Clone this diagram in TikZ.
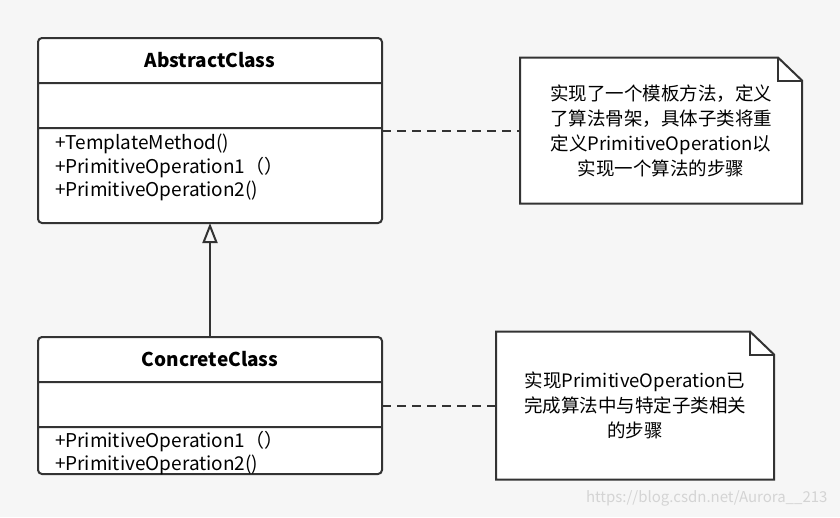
\documentclass[tikz,border=0pt]{standalone}
\usepackage{fontspec}
\setmainfont{Noto Sans CJK SC}
\usetikzlibrary{shapes, positioning, calc, arrows.meta}
\definecolor{linegray}{HTML}{333333}
\definecolor{backgray}{HTML}{F6F6F6}
\definecolor{markgray}{HTML}{D4D4D4}

\newcommand{\classtitle}[1]{\parbox[c][43pt][c]{344pt}{\centering
    \fontsize{19pt}{22pt}\selectfont\bfseries #1}}
\newcommand{\classblank}{\parbox[c][43pt][c]{344pt}{\null}}
\newcommand{\classops}[3]{\parbox[c][#1][t]{344pt}{\vspace*{#2}%
    \leftskip=17pt\fontsize{19pt}{23.5pt}\selectfont #3}}

\begin{document}
\begin{tikzpicture}[x=1pt, y=-1pt,
    umlclass/.style={rectangle split,
      rectangle split parts=#1,
      draw=linegray,
      line width=2pt,
      fill=white,
      rounded corners=4pt,
      inner sep=0pt,
      outer sep=0pt},
    umlnote/.style={fill=white,
      inner sep=0pt,
      outer sep=0pt,
      align=center,
      font=\fontsize{18.5pt}{25pt}\selectfont},
    noteline/.style={draw=linegray, line width=2pt},
    link/.style={draw=linegray, line width=2pt, dash pattern=on 9pt off 6pt}]

  \fill[backgray] (0,0) rectangle (840,517);
  \useasboundingbox (0,0) rectangle (840,517);

% CLASSES

  \node [umlclass=3, anchor=north west] at (38,38) (abstract) {
    \classtitle{AbstractClass}%
    \nodepart{two}   \classblank
    \nodepart{three} \classops{93pt}{5pt}{+TemplateMethod()\\
      +PrimitiveOperation1（）\\+PrimitiveOperation2()}
  };

  \node [umlclass=3, below=114pt of abstract] (concrete) {
    \classtitle{ConcreteClass}%
    \nodepart{two}   \classblank
    \nodepart{three} \classops{45pt}{3pt}{+PrimitiveOperation1（）\\
      +PrimitiveOperation2()}
  };

% NOTES

  \node [umlnote, minimum width=282pt, minimum height=146pt,
    right=138pt of abstract] (templatenote) {
    实现了一个模板方法，定义\\了算法骨架，具体子类将重\\
    定义PrimitiveOperation以\\实现一个算法的步骤};

  \node [umlnote, minimum width=278pt, minimum height=148pt,
    right=114pt of concrete] (concretenote) {
    实现PrimitiveOperation已\\完成算法中与特定子类相关\\的步骤};

  \foreach \n in {templatenote, concretenote} {
    \fill[backgray] ($(\n.north east)+(-24,0)$) -- (\n.north east)
      -- ($(\n.north east)+(0,23)$) -- cycle;
    \draw[noteline, line join=miter] (\n.north west)
      -- ($(\n.north east)+(-24,0)$) -- ($(\n.north east)+(0,23)$)
      -- (\n.south east) -- (\n.south west) -- cycle;
    \draw[noteline] ($(\n.north east)+(-24,0)$) |- ($(\n.north east)+(0,23)$);
  }

% LINKS

  \draw[noteline, -{Triangle[open, length=20pt, width=15pt]}]
    (concrete.north) -- (abstract.south);

  \draw[link] (abstract.east) -- (templatenote.west);
  \draw[link] (concrete.east) -- (concretenote.west);

  \node [text=markgray, font=\fontsize{15pt}{15pt}\selectfont,
    anchor=east] at (831,498) (watermark) {https://blog.csdn.net/Aurora\_\_213};

\end{tikzpicture}
\end{document}
